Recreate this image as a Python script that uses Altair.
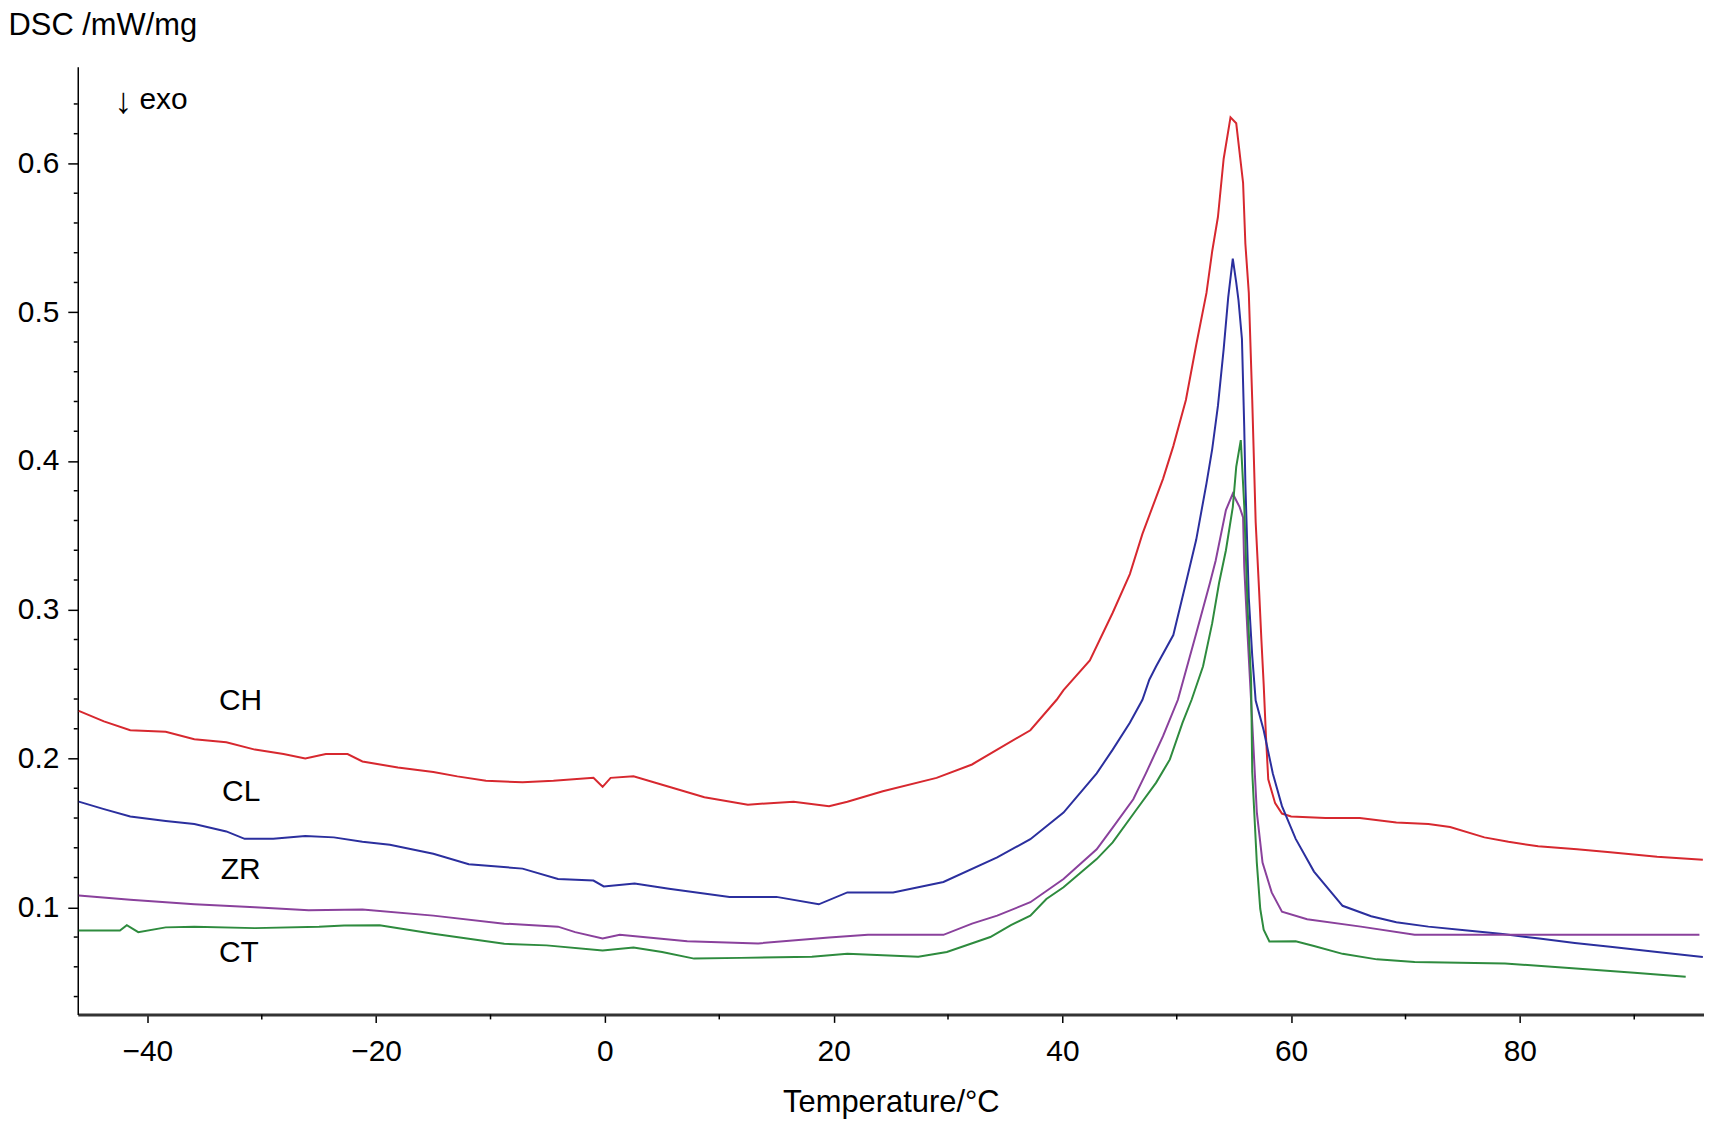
import altair as alt
import pandas as pd

# ---------------- data ----------------
series_names = ["CH", "CL", "ZR", "CT"]
series_colors = ["#d7282f", "#2b2f9e", "#8a419c", "#2e8b3e"]

ch_t = [-46.0, -43.8, -41.5, -38.4, -35.9, -33.1, -30.6, -28.1, -26.2, -24.4, -22.5, -21.2, -18.1, -15.0,
        -12.9, -10.4, -7.2, -4.5, -1.0, -0.2, 0.5, 2.5, 5.6, 8.7, 12.5, 16.5, 19.6, 21.2, 24.3, 29.0, 32.1,
        34.3, 37.2, 39.5, 40.1, 42.4, 44.4, 45.9, 47.0, 48.8, 49.7, 50.8, 51.7, 52.6, 53.1, 53.6, 54.1,
        54.7, 55.2, 55.8, 56.0, 56.3, 56.6, 56.9, 57.2, 57.4, 57.6, 57.8, 58.0, 58.6, 59.2, 60.0, 63.0,
        66.0, 69.2, 72.0, 73.9, 76.9, 79.0, 81.6, 85.0, 87.9, 92.0, 96.0]
ch_dsc = [0.232, 0.225, 0.219, 0.218, 0.213, 0.211, 0.206, 0.203, 0.200, 0.203, 0.203, 0.198, 0.194, 0.191,
          0.188, 0.185, 0.184, 0.185, 0.187, 0.181, 0.187, 0.188, 0.181, 0.174, 0.169, 0.171, 0.168, 0.171,
          0.178, 0.187, 0.196, 0.206, 0.219, 0.2395, 0.246, 0.266, 0.298, 0.324, 0.351, 0.388, 0.410, 0.441,
          0.478, 0.513, 0.541, 0.564, 0.603, 0.631, 0.627, 0.587, 0.546, 0.513, 0.441, 0.359, 0.313, 0.280,
          0.250, 0.215, 0.186, 0.170, 0.163, 0.161, 0.160, 0.160, 0.157, 0.156, 0.154, 0.147, 0.144, 0.141,
          0.139, 0.137, 0.134, 0.132]

cl_t = [-46.0, -43.8, -41.5, -38.4, -35.9, -33.1, -31.5, -29.0, -26.2, -23.7, -21.2, -18.8, -15.0, -11.9,
        -7.2, -4.1, -1.0, -0.1, 2.6, 5.6, 10.9, 15.0, 18.7, 21.2, 25.2, 29.6, 34.3, 37.2, 40.1, 43.0, 44.4,
        45.9, 47.0, 47.6, 48.2, 49.7, 50.8, 51.7, 52.6, 53.1, 53.6, 54.1, 54.5, 54.9, 55.2, 55.4, 55.7, 55.9,
        56.0, 56.3, 56.6, 56.9, 57.6, 58.4, 59.2, 60.4, 62.0, 64.5, 67.0, 69.2, 72.0, 75.4, 78.5, 81.7,
        84.8, 87.9, 92.0, 96.0]
cl_dsc = [0.171, 0.166, 0.161, 0.158, 0.156, 0.151, 0.146, 0.146, 0.148, 0.147, 0.144, 0.142, 0.136, 0.129,
          0.126, 0.119, 0.118, 0.114, 0.116, 0.1125, 0.107, 0.107, 0.102, 0.110, 0.110, 0.117, 0.1335, 0.1458,
          0.1637, 0.190, 0.206, 0.224, 0.2395, 0.253, 0.262, 0.283, 0.318, 0.347, 0.385, 0.408, 0.437, 0.475,
          0.510, 0.536, 0.520, 0.508, 0.482, 0.423, 0.385, 0.308, 0.269, 0.239, 0.219, 0.190, 0.168, 0.146,
          0.124, 0.101, 0.094, 0.090, 0.087, 0.0844, 0.082, 0.079, 0.076, 0.0735, 0.070, 0.0666]

zr_t = [-46.0, -41.5, -35.9, -30.6, -25.9, -21.2, -15.0, -8.8, -4.1, -2.6, -0.2, 1.3, 7.2, 13.4, 19.6, 23.0,
        29.6, 32.1, 34.3, 37.2, 40.1, 43.0, 44.4, 46.2, 47.3, 48.8, 50.1, 51.7, 52.9, 53.4, 54.3, 54.9,
        55.5, 55.8, 55.9, 56.2, 56.5, 57.0, 57.5, 58.3, 59.2, 61.4, 66.1, 70.8, 80.0, 95.7]
zr_dsc = [0.108, 0.105, 0.102, 0.100, 0.098, 0.0985, 0.0944, 0.089, 0.087, 0.0833, 0.079, 0.0815, 0.0772,
          0.0757, 0.0797, 0.0815, 0.0815, 0.089, 0.0944, 0.1034, 0.119, 0.139, 0.1536, 0.1726, 0.190, 0.215,
          0.2395, 0.284, 0.318, 0.333, 0.367, 0.378, 0.369, 0.362, 0.329, 0.282, 0.239, 0.164, 0.130, 0.110,
          0.097, 0.092, 0.087, 0.0815, 0.0815, 0.0815]

ct_t = [-46.0, -42.4, -41.8, -40.8, -38.4, -35.9, -30.6, -25.0, -22.8, -19.7, -15.0, -8.8, -5.1, -0.2, 2.5,
        5.0, 7.8, 11.9, 18.1, 21.2, 27.4, 29.9, 33.7, 35.5, 37.2, 38.6, 40.1, 43.0, 44.4, 46.5, 48.2, 49.4,
        50.5, 51.3, 52.3, 53.1, 53.7, 54.3, 54.9, 55.2, 55.6, 55.9, 56.2, 56.5, 56.6, 57.0, 57.3, 57.6,
        58.1, 60.4, 62.0, 64.5, 67.5, 70.8, 78.7, 84.9, 90.0, 94.5]
ct_dsc = [0.0844, 0.0844, 0.088, 0.0833, 0.0865, 0.087, 0.086, 0.087, 0.0878, 0.088, 0.0822, 0.0755, 0.0744,
          0.071, 0.073, 0.070, 0.0655, 0.066, 0.0668, 0.0688, 0.0668, 0.070, 0.080, 0.088, 0.0944, 0.1056,
          0.1135, 0.1324, 0.1436, 0.1659, 0.1838, 0.1994, 0.224, 0.2395, 0.262, 0.291, 0.318, 0.340, 0.369,
          0.396, 0.414, 0.370, 0.300, 0.253, 0.191, 0.130, 0.099, 0.085, 0.077, 0.0772, 0.074, 0.0687, 0.065,
          0.0633, 0.0622, 0.0589, 0.056, 0.0533]

# curve labels and the exo note
label_text = ["CH", "CL", "ZR", "CT"]
label_t = [-31.85, -31.8, -31.85, -32.0]
label_dsc = [0.2324, 0.1714, 0.1190, 0.0632]

arrow_text = ["↓"]
arrow_t = [-42.1]
arrow_dsc = [0.6340]
exo_text = ["exo"]
exo_t = [-40.7]
exo_dsc = [0.6368]

x_domain = [-46.09, 96.1]
y_domain = [0.028, 0.665]
x_major = [-40, -20, 0, 20, 40, 60, 80]
x_minor = [-30, -10, 10, 30, 50, 70, 90]
y_major = [0.1, 0.2, 0.3, 0.4, 0.5, 0.6]
y_minor = [0.04, 0.06, 0.08, 0.12, 0.14, 0.16, 0.18, 0.22, 0.24, 0.26, 0.28, 0.32, 0.34, 0.36, 0.38,
           0.42, 0.44, 0.46, 0.48, 0.52, 0.54, 0.56, 0.58, 0.62, 0.64]

# ---------------- build tables ----------------
rows = []
for name, ts, ds in [("CH", ch_t, ch_dsc), ("CL", cl_t, cl_dsc), ("ZR", zr_t, zr_dsc), ("CT", ct_t, ct_dsc)]:
    assert len(ts) == len(ds), name
    for i, (t, d) in enumerate(zip(ts, ds)):
        rows.append({"series": name, "t": t, "dsc": d, "i": i})
df = pd.DataFrame(rows)
labels_df = pd.DataFrame({"text": label_text, "t": label_t, "dsc": label_dsc})
arrow_df = pd.DataFrame({"text": arrow_text, "t": arrow_t, "dsc": arrow_dsc})
exo_df = pd.DataFrame({"text": exo_text, "t": exo_t, "dsc": exo_dsc})
xminor_df = pd.DataFrame({"t": x_minor})
yminor_df = pd.DataFrame({"dsc": y_minor})

FONT = "Liberation Sans"
W, H = 1632, 951

x_scale = alt.Scale(domain=x_domain, nice=False, zero=False)
y_scale = alt.Scale(domain=y_domain, nice=False, zero=False)

x_axis = alt.Axis(
    values=x_major, format="d", labelOverlap=False,
    tickSize=8, tickColor="black", tickWidth=1.5,
    domainColor="#333333", domainWidth=3,
    labelFont=FONT, labelFontSize=30, labelColor="black", labelPadding=14,
    title="Temperature/°C", titleFont=FONT, titleFontSize=31, titleFontWeight="normal",
    titleColor="black", titleY=97, titleBaseline="alphabetic",
    grid=False,
)
y_axis = alt.Axis(
    values=y_major, format=".1f", labelOverlap=False,
    tickSize=10, tickColor="black", tickWidth=1.5,
    domainColor="black", domainWidth=1.5,
    labelFont=FONT, labelFontSize=30, labelColor="black", labelPadding=9,
    title="DSC /mW/mg", titleFont=FONT, titleFontSize=31, titleFontWeight="normal", titleColor="black",
    titleAngle=0, titleAlign="left", titleBaseline="alphabetic", titleX=-70, titleY=-32,
    grid=False,
)

lines = alt.Chart(df).mark_line(strokeWidth=2, clip=True).encode(
    x=alt.X("t:Q", scale=x_scale, axis=x_axis),
    y=alt.Y("dsc:Q", scale=y_scale, axis=y_axis),
    color=alt.Color("series:N", scale=alt.Scale(domain=series_names, range=series_colors), legend=None),
    detail="series:N",
    order=alt.Order("i:Q"),
)

x_minor_ticks = alt.Chart(xminor_df).mark_rule(color="black", strokeWidth=1.5).encode(
    x=alt.X("t:Q", scale=x_scale),
    y=alt.value(H),
    y2=alt.value(H + 5),
)

y_minor_ticks = alt.Chart(yminor_df).mark_rule(color="black", strokeWidth=1.5).encode(
    y=alt.Y("dsc:Q", scale=y_scale),
    x=alt.value(-4),
    x2=alt.value(0),
)

labels = alt.Chart(labels_df).mark_text(font=FONT, fontSize=30, color="black", align="center",
                                        baseline="alphabetic").encode(
    x=alt.X("t:Q", scale=x_scale),
    y=alt.Y("dsc:Q", scale=y_scale),
    text="text:N",
)

arrow = alt.Chart(arrow_df).mark_text(font=FONT, fontSize=36, color="black", align="center",
                                      baseline="alphabetic").encode(
    x=alt.X("t:Q", scale=x_scale),
    y=alt.Y("dsc:Q", scale=y_scale),
    text="text:N",
)

exo = alt.Chart(exo_df).mark_text(font=FONT, fontSize=30, color="black", align="left",
                                  baseline="alphabetic").encode(
    x=alt.X("t:Q", scale=x_scale),
    y=alt.Y("dsc:Q", scale=y_scale),
    text="text:N",
)

chart = alt.layer(lines, x_minor_ticks, y_minor_ticks, labels, arrow, exo).properties(
    width=W, height=H,
    padding={"left": 70, "top": 57, "right": 0, "bottom": 104},
    autosize=alt.AutoSizeParams(type="none"),
    background="white",
).configure_view(stroke=None)

chart.save("out.html", embed_options={"renderer": "svg", "actions": False})
